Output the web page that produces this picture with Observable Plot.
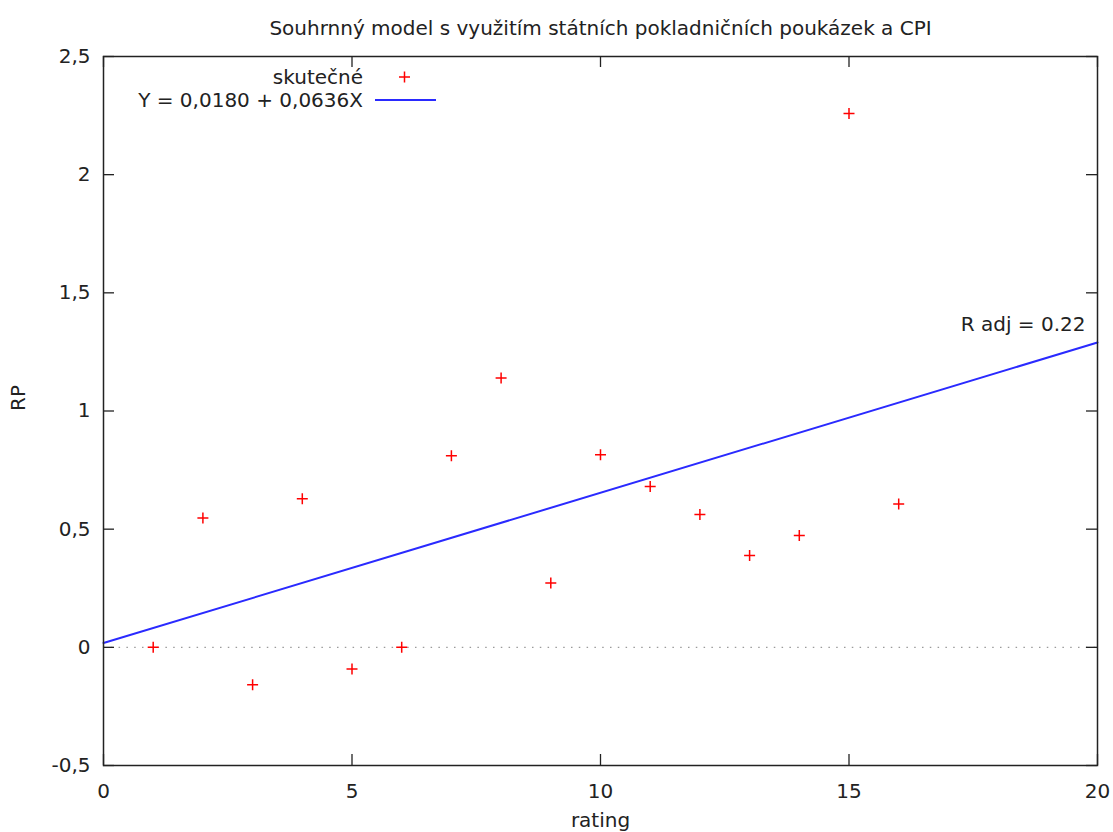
<!DOCTYPE html>
<html>
<head>
<meta charset="utf-8">
<script src="https://cdn.jsdelivr.net/npm/d3@7"></script>
<script src="https://cdn.jsdelivr.net/npm/@observablehq/plot@0.6"></script>
<style>
  html, body { margin: 0; padding: 0; background: #fff; }
  #chart svg { display: block; }
</style>
</head>
<body>
<div id="chart"></div>
<script>
// ---- data ----
const ratings = [1, 2, 3, 4, 5, 6, 7, 8, 9, 10, 11, 12, 13, 14, 15, 16];
const rpValues = [0, 0.547, -0.158, 0.629, -0.092, 0, 0.811, 1.14, 0.272, 0.815, 0.681, 0.562, 0.389, 0.473, 2.259, 0.606];
const intercept = 0.0180;
const slope = 0.0636;
const fitX = [0, 20];
const xDomain = [0, 20];
const yDomain = [-0.5, 2.5];
const xTicks = [0, 5, 10, 15, 20];
const xTickLabels = ["0", "5", "10", "15", "20"];
const yTicks = [-0.5, 0, 0.5, 1, 1.5, 2, 2.5];
const yTickLabels = ["-0,5", "0", "0,5", "1", "1,5", "2", "2,5"];
const titleText = "Souhrnný model s využitím státních pokladničních poukázek a CPI";
const xLabel = "rating";
const yLabel = "RP";
const seriesLabel = "skutečné";
const fitLabel = "Y = 0,0180 + 0,0636X";
const rAdjLabel = "R adj = 0.22";
const rAdjY = 1.365;

// ---- derived tables ----
const points = ratings.map((r, i) => ({x: r, y: rpValues[i]}));
const fitLine = fitX.map(x => ({x, y: intercept + slope * x}));

const plusSymbol = {
  draw(ctx, size) {
    const r = Math.sqrt(size / Math.PI);
    ctx.moveTo(-r, 0); ctx.lineTo(r, 0);
    ctx.moveTo(0, -r); ctx.lineTo(0, r);
  }
};

const red = "#ff0000";
const blue = "#2a2aff";
const ink = "#222";
const tick = 11;
const fontPx = 20;

// legend drawn as a custom mark
function legendMark(index, scales, values, dims) {
  const g = d3.create("svg:g")
    .attr("transform", `translate(${dims.marginLeft},${dims.marginTop})`)
    .attr("font-family", "DejaVu Sans").attr("font-size", fontPx).attr("fill", ink);
  g.append("text").attr("x", 260).attr("y", 21).attr("dy", "0.35em")
    .attr("text-anchor", "end").text(seriesLabel);
  g.append("path").attr("d", "M296,21h11M301.5,15.5v11")
    .attr("stroke", red).attr("stroke-width", 1.5).attr("fill", "none");
  g.append("text").attr("x", 260).attr("y", 44).attr("dy", "0.35em")
    .attr("text-anchor", "end").text(fitLabel);
  g.append("line").attr("x1", 272).attr("x2", 333).attr("y1", 44).attr("y2", 44)
    .attr("stroke", blue).attr("stroke-width", 2);
  return g.node();
}

const chart = Plot.plot({
  width: 1113,
  height: 832,
  marginLeft: 103,
  marginRight: 16,
  marginTop: 56,
  marginBottom: 67,
  style: {fontFamily: "DejaVu Sans", fontSize: fontPx + "px", color: ink, background: "#fff"},
  x: {domain: xDomain, label: null, axis: null},
  y: {domain: yDomain, label: null, axis: null},
  marks: [
    // zero dotted line
    Plot.ruleY([0], {stroke: "#9a9a9a", strokeWidth: 1.2, strokeDasharray: "1.5,6.3"}),
    // fitted line
    Plot.line(fitLine, {x: "x", y: "y", stroke: blue, strokeWidth: 2}),
    // data points
    Plot.dot(points, {x: "x", y: "y", symbol: plusSymbol, r: 5.5, stroke: red, strokeWidth: 1.5, fill: "none"}),
    // frame
    Plot.frame({stroke: ink, strokeWidth: 1.5}),
    // inward ticks
    Plot.ruleX(xTicks, {x: d => d, y1: yDomain[0], y2: yDomain[0], insetTop: -tick, stroke: ink, strokeWidth: 1.3}),
    Plot.ruleX(xTicks, {x: d => d, y1: yDomain[1], y2: yDomain[1], insetBottom: -tick, stroke: ink, strokeWidth: 1.3}),
    Plot.ruleY(yTicks, {y: d => d, x1: xDomain[0], x2: xDomain[0], insetRight: -tick, stroke: ink, strokeWidth: 1.3}),
    Plot.ruleY(yTicks, {y: d => d, x1: xDomain[1], x2: xDomain[1], insetLeft: -tick, stroke: ink, strokeWidth: 1.3}),
    // tick labels
    Plot.axisX(xTicks, {tickSize: 0, tickPadding: 18, tickFormat: d => xTickLabels[xTicks.indexOf(d)], label: null}),
    Plot.axisY(yTicks, {tickSize: 0, tickPadding: 13, tickFormat: d => yTickLabels[yTicks.indexOf(d)], label: null}),
    // axis titles
    Plot.text([xLabel], {frameAnchor: "bottom", dy: 61, text: d => d}),
    Plot.text([yLabel], {frameAnchor: "left", dx: -85, rotate: -90, text: d => d}),
    // title
    Plot.text([titleText], {frameAnchor: "top", dy: -36, text: d => d}),
    // R adj annotation
    Plot.text([rAdjLabel], {x: xDomain[1], y: rAdjY, dx: -12, textAnchor: "end", text: d => d}),
    // legend
    legendMark
  ]
});

document.getElementById("chart").appendChild(chart);
</script>
</body>
</html>
